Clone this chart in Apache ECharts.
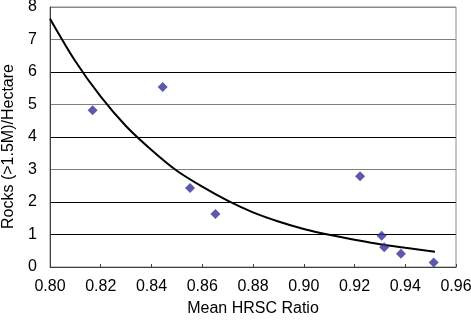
<!DOCTYPE html>
<html>
<head>
<meta charset="utf-8">
<script src="https://cdn.jsdelivr.net/npm/echarts@6/dist/echarts.min.js"></script>
<style>
html,body{margin:0;padding:0;background:#fff;}
#chart{width:471px;height:324px;}
</style>
</head>
<body>
<div id="chart"></div>
<script>
// Scatter observations: Mean HRSC ratio vs rocks per hectare
const ratioValues = [0.8168, 0.8444, 0.8552, 0.8652, 0.9222, 0.9307, 0.9317, 0.9383, 0.9512];
const rockValues  = [4.82, 5.54, 2.43, 1.63, 2.79, 0.96, 0.61, 0.41, 0.14];

// Trend curve at regular steps
const trendX = [0.80, 0.81, 0.82, 0.83, 0.84, 0.85, 0.86, 0.87, 0.88, 0.89, 0.90, 0.91, 0.92, 0.93, 0.94, 0.9517];
const trendY = [7.64, 6.33, 5.24, 4.33, 3.60, 2.96, 2.47, 2.04, 1.68, 1.40, 1.17, 0.99, 0.84, 0.70, 0.59, 0.47];

const xTitle = 'Mean HRSC Ratio';
const yTitle = 'Rocks (>1.5M)/Hectare';

const FONT = '"Liberation Sans", Arial, sans-serif';
const chart = echarts.init(document.getElementById('chart'), null, {renderer: 'canvas'});

chart.setOption({
  animation: false,
  backgroundColor: '#ffffff',
  grid: {
    left: 50, right: 15, top: 7, bottom: 57,
    outerBoundsMode: 'none',
    containLabel: false,
    show: true, borderColor: '#8a8a8a', borderWidth: 1, backgroundColor: 'transparent'
  },
  xAxis: {
    type: 'value',
    min: 0.8, max: 0.96, interval: 0.02,
    name: xTitle,
    nameLocation: 'middle',
    nameGap: 34,
    nameTextStyle: {fontFamily: FONT, fontSize: 16, color: '#000'},
    axisLine: {show: true, lineStyle: {color: '#404040', width: 1}},
    axisTick: {show: true, inside: true, length: 3, lineStyle: {color: '#404040'}},
    axisLabel: {
      fontFamily: FONT, fontSize: 16, color: '#000', margin: 12,
      formatter: v => v.toFixed(2)
    },
    splitLine: {show: false}
  },
  yAxis: {
    type: 'value',
    min: 0, max: 8, interval: 1,
    name: yTitle,
    nameLocation: 'middle',
    nameGap: 33,
    nameTextStyle: {fontFamily: FONT, fontSize: 16, color: '#000', padding: [0, 19, 0, 0]},
    axisLine: {show: true, lineStyle: {color: '#404040', width: 1}},
    axisTick: {show: false},
    axisLabel: {fontFamily: FONT, fontSize: 16, color: '#000', margin: 13},
    splitLine: {
      show: true,
      lineStyle: {
        color: ['#404040', '#000000', '#000000', '#808080', '#000000', '#808080', '#000000', '#808080', '#8a8a8a'],
        width: 1
      }
    }
  },
  series: [
    {
      type: 'line',
      data: trendX.map((x, i) => [x, trendY[i]]),
      smooth: 0.3,
      showSymbol: false,
      lineStyle: {color: '#000000', width: 2},
      z: 2
    },
    {
      type: 'scatter',
      data: ratioValues.map((x, i) => [x, rockValues[i]]),
      symbol: 'diamond',
      symbolSize: 10,
      itemStyle: {color: '#332f96'},
      z: 3
    }
  ]
});
</script>
</body>
</html>
